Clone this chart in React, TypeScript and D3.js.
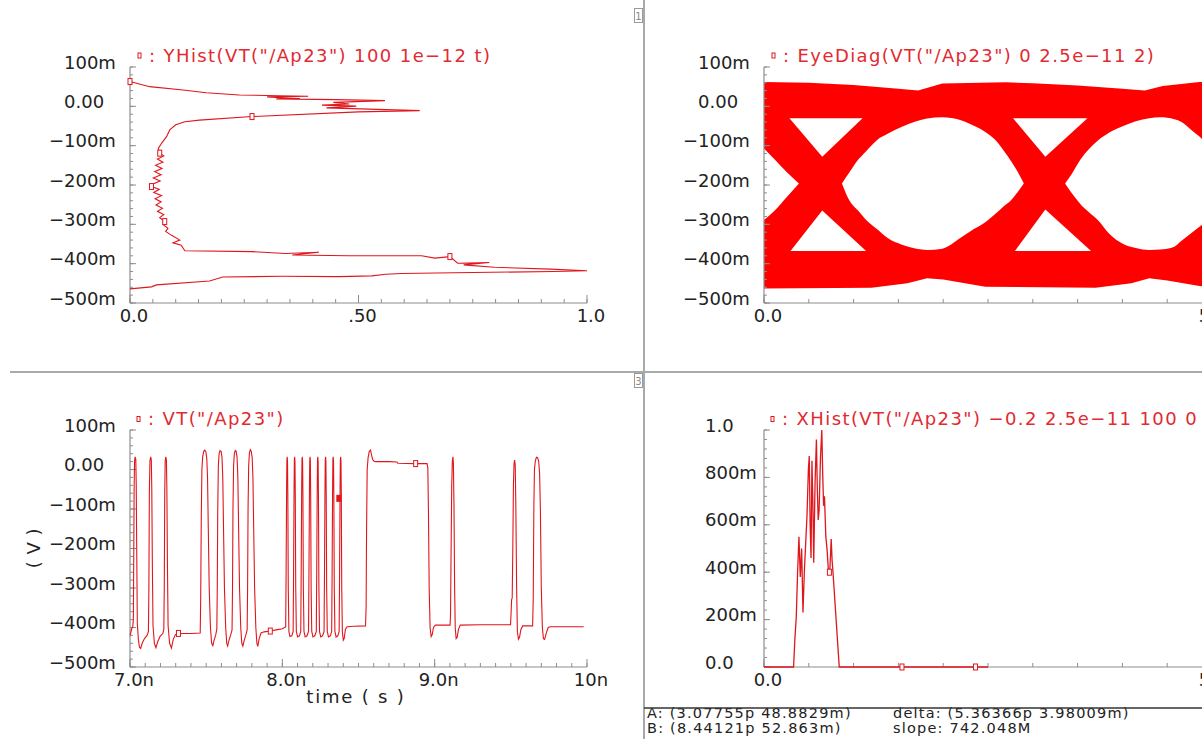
import React from "react";
import * as d3 from "d3";

// ---------------- DATA ----------------
// Top-left: YHist — normalized count vs. voltage (mV)
const yhistPoints: [number, number][] = [
  [0.0, 63], [0.043, 50], [0.116, 41.5], [0.167, 34.7], [0.239, 28.8], [0.326, 27], [0.39, 25.5],
  [0.3, 24], [0.33, 22], [0.372, 20], [0.32, 19], [0.45, 17], [0.558, 14.5], [0.445, 10], [0.48, 6],
  [0.42, 3], [0.495, 0.5], [0.43, -4], [0.634, -11], [0.5, -14], [0.267, -26], [0.152, -35],
  [0.12, -39], [0.1, -47], [0.087, -60], [0.08, -77], [0.069, -94], [0.062, -107], [0.065, -119],
  [0.074, -126], [0.06, -134], [0.072, -142], [0.056, -150], [0.07, -158], [0.054, -166],
  [0.068, -174], [0.051, -182], [0.066, -190], [0.049, -198], [0.047, -204], [0.064, -211],
  [0.052, -219], [0.069, -227], [0.055, -235], [0.068, -243], [0.057, -251], [0.071, -259],
  [0.06, -267], [0.074, -275], [0.065, -283], [0.076, -293], [0.072, -300], [0.083, -310],
  [0.078, -318], [0.091, -328], [0.109, -340], [0.094, -347], [0.112, -353],
  [0.12, -367], [0.268, -369.5], [0.34, -374], [0.413, -371], [0.355, -378], [0.478, -380],
  [0.638, -380], [0.667, -386], [0.7, -382], [0.717, -399], [0.786, -397], [0.73, -403],
  [0.797, -409], [0.92, -414], [1.0, -418], [0.927, -420], [0.71, -423], [0.594, -425],
  [0.56, -427], [0.529, -431], [0.457, -433], [0.333, -432], [0.203, -434], [0.174, -444],
  [0.058, -454], [0.047, -459], [0.0, -464],
];
const yhistMarkers: [number, number][] = [
  [0.0, 63], [0.267, -26], [0.065, -119], [0.047, -204], [0.076, -293], [0.7, -382],
];

// Top-right: eye diagram (ps, mV) — outer envelope and white openings
const eyeUpperEdge: [number, number][] = [
  [0, 62], [5, 60], [10, 54], [15, 45], [17.2, 40], [19.9, 58], [27, 61], [30, 59], [35, 53],
  [40, 45], [42.5, 40], [44.5, 52], [48.6, 62], [50, 62],
];
const eyeLowerEdge: [number, number][] = [
  [0, -463], [12, -461], [16, -450], [18.2, -437], [20, -440], [24.7, -459], [37, -461],
  [41, -450], [43, -437], [45, -443], [48.6, -457], [50, -460],
];
// eye openings: [time ps, upper boundary mV, lower boundary mV]
const eyeOpening0: [number, number, number][] = [
  [0, -107, -289], [1.2, -135, -265], [2.5, -166, -232], [3.9, -196, -196],
];
const eyeOpening1: [number, number, number][] = [
  [8.7, -196, -196], [9.5, -169, -238], [10.5, -136, -265], [11.4, -114, -289], [12.6, -86, -312],
  [13.8, -70, -335], [15.4, -52, -352], [17.0, -38, -362], [18.2, -31, -365], [19.9, -28, -362],
  [21.9, -35, -335], [23.0, -45, -318], [24.7, -65, -295], [25.8, -85, -274], [26.7, -111, -255],
  [27.6, -140, -238], [28.4, -170, -215], [29.0, -196, -196],
];
const eyeOpening2: [number, number, number][] = [
  [33.6, -196, -196], [34.4, -170, -222], [35.3, -136, -248], [36.3, -108, -270], [37.3, -86, -290],
  [38.5, -67, -323], [40.1, -50, -350], [41.5, -38, -360], [43.0, -30, -365], [44.2, -28, -364],
  [45.8, -33, -357], [46.6, -40, -342], [47.6, -58, -324], [48.6, -77, -306], [50, -107, -289],
];
const eyeTriangleUp1: [number, number][] = [[2.84, -30.5], [11.0, -30.5], [6.5, -128]];
const eyeTriangleDown1: [number, number][] = [[6.5, -265], [11.4, -368], [2.96, -368]];
const eyeTriangleUp2: [number, number][] = [[27.8, -30.5], [36.1, -30.5], [31.4, -128]];
const eyeTriangleDown2: [number, number][] = [[31.4, -262], [36.5, -368], [28.0, -368]];

// Bottom-left: transient VT("/Ap23") (ns, mV)
const vtPoints: [number, number][] = [
  [7.0, -420], [7.006, -412], [7.012, -402], [7.018, -398], [7.022, -380], [7.025, -200], [7.027, -50],
  [7.03, 22], [7.034, 32], [7.038, 26], [7.041, -40], [7.044, -200], [7.048, -390], [7.055, -430],
  [7.062, -450], [7.07, -453], [7.08, -440], [7.095, -428], [7.112, -420], [7.121, -410], [7.124, -300],
  [7.127, -60], [7.131, 22], [7.136, 32], [7.14, 24], [7.143, -50], [7.147, -250], [7.151, -395],
  [7.16, -440], [7.17, -451], [7.182, -436], [7.198, -422], [7.215, -416], [7.222, -405], [7.225, -300],
  [7.228, -60], [7.231, 22], [7.235, 32], [7.239, 24], [7.242, -50], [7.246, -250], [7.25, -395],
  [7.26, -440], [7.272, -452], [7.284, -430], [7.298, -418], [7.318, -415], [7.4, -415], [7.461, -414],
  [7.464, -330], [7.468, -120], [7.472, 0], [7.477, 32], [7.484, 46], [7.491, 49], [7.498, 45],
  [7.504, 28], [7.509, -20], [7.514, -150], [7.52, -300], [7.528, -400], [7.536, -440], [7.544, -446],
  [7.552, -432], [7.562, -420], [7.57, -405], [7.573, -300], [7.576, -100], [7.58, 10], [7.585, 40],
  [7.591, 48], [7.598, 46], [7.604, 30], [7.609, -20], [7.614, -150], [7.62, -300], [7.628, -400],
  [7.635, -440], [7.641, -447], [7.65, -432], [7.66, -420], [7.67, -406], [7.673, -300], [7.676, -100],
  [7.68, 10], [7.685, 40], [7.691, 48], [7.697, 46], [7.703, 30], [7.708, -20], [7.713, -150],
  [7.719, -300], [7.727, -400], [7.734, -440], [7.741, -447], [7.75, -432], [7.76, -420], [7.769, -406],
  [7.772, -300], [7.775, -100], [7.779, 10], [7.784, 42], [7.79, 50], [7.796, 46], [7.802, 30],
  [7.807, -20], [7.812, -150], [7.818, -300], [7.826, -400], [7.833, -440], [7.839, -448], [7.848, -428],
  [7.86, -414], [7.88, -411], [7.921, -409], [7.96, -406], [8.0, -403], [8.015, -400],
  [8.022, -398], [8.025, -250], [8.028, -50], [8.03, 25], [8.032, 32], [8.034, 20], [8.036, -60],
  [8.039, -300], [8.043, -410], [8.05, -423], [8.062, -421], [8.071, -410],
  [8.074, -250], [8.077, -50], [8.079, 25], [8.081, 32], [8.083, 20], [8.085, -60], [8.088, -300],
  [8.092, -410], [8.1, -424], [8.112, -421], [8.121, -410],
  [8.124, -250], [8.127, -50], [8.129, 25], [8.131, 32], [8.133, 20], [8.135, -60], [8.138, -300],
  [8.142, -410], [8.15, -424], [8.162, -421], [8.172, -410],
  [8.175, -250], [8.178, -50], [8.18, 25], [8.182, 32], [8.184, 20], [8.186, -60], [8.189, -300],
  [8.193, -410], [8.201, -424], [8.213, -421], [8.223, -410],
  [8.226, -250], [8.229, -50], [8.231, 25], [8.233, 32], [8.235, 20], [8.237, -60], [8.24, -300],
  [8.244, -410], [8.252, -424], [8.264, -421], [8.274, -410],
  [8.277, -250], [8.28, -50], [8.282, 25], [8.284, 32], [8.286, 20], [8.288, -60], [8.291, -300],
  [8.295, -410], [8.303, -424], [8.315, -421], [8.324, -410],
  [8.327, -250], [8.33, -50], [8.332, 25], [8.334, 32], [8.336, 20], [8.338, -60], [8.341, -300],
  [8.345, -410], [8.353, -424], [8.364, -421], [8.373, -410],
  [8.376, -250], [8.379, -50], [8.381, 25], [8.383, 32], [8.385, 20], [8.387, -60], [8.39, -300],
  [8.394, -410], [8.4, -432], [8.406, -428], [8.414, -405], [8.425, -398], [8.47, -397], [8.546, -396],
  [8.55, -350], [8.553, -150], [8.557, 0], [8.563, 30], [8.571, 46], [8.579, 49], [8.585, 38],
  [8.592, 26], [8.602, 21], [8.612, 20], [8.7, 20], [8.752, 19], [8.758, 16], [8.875, 15], [8.95, 15],
  [8.955, 5], [8.959, -100], [8.964, -300], [8.97, -400], [8.977, -423], [8.984, -418], [8.992, -400],
  [9.005, -394], [9.101, -394],
  [9.104, -370], [9.108, -200], [9.112, -40], [9.116, 20], [9.12, 32], [9.123, 15], [9.127, -100],
  [9.131, -300], [9.135, -400], [9.141, -428], [9.148, -425], [9.156, -405], [9.168, -394],
  [9.3, -393], [9.498, -393],
  [9.502, -360], [9.505, -330], [9.509, -325], [9.513, -200], [9.517, -40], [9.521, 15], [9.525, 24],
  [9.529, 10], [9.533, -100], [9.538, -300], [9.543, -410], [9.55, -430], [9.557, -425], [9.566, -405],
  [9.578, -396], [9.643, -396],
  [9.647, -330], [9.651, -100], [9.655, 0], [9.661, 22], [9.668, 31], [9.676, 30], [9.683, 20],
  [9.689, -10], [9.694, -100], [9.7, -300], [9.707, -400], [9.714, -428], [9.722, -430], [9.732, -415],
  [9.745, -400], [9.76, -398], [9.9, -398], [9.978, -398],
];
const vtMarkers: [number, number][] = [[7.318, -415], [7.921, -409], [8.875, 15]];
const vtFilledMarkers: [number, number][] = [[8.371, -73]];

// Bottom-right: XHist (ps, normalized count)
const xhistPoints: [number, number][] = [
  [0, 0], [3.3, 0], [3.45, 0.12], [3.6, 0.21], [3.75, 0.4], [3.9, 0.55], [4.05, 0.38], [4.2, 0.5],
  [4.35, 0.23], [4.5, 0.4], [4.65, 0.52], [4.8, 0.64], [4.95, 0.83], [5.05, 0.89], [5.15, 0.6],
  [5.25, 0.46], [5.35, 0.87], [5.45, 0.7], [5.55, 0.44], [5.7, 0.78], [5.85, 0.96], [5.95, 0.75],
  [6.05, 0.62], [6.15, 0.66], [6.3, 0.88], [6.45, 1.0], [6.55, 0.82], [6.65, 0.68], [6.75, 0.72],
  [6.9, 0.55], [7.05, 0.49], [7.2, 0.4], [7.35, 0.41], [7.5, 0.54], [7.6, 0.45], [7.7, 0.4],
  [8.4, 0], [25, 0],
];
const xhistMarkers: [number, number][] = [[7.3, 0.4], [15.4, 0], [23.6, 0]];

// Tick labels
const voltTicks = [100, 0, -100, -200, -300, -400, -500];
const voltTickLabels = ["100m", "0.00", "−100m", "−200m", "−300m", "−400m", "−500m"];
const countTicks = [0, 0.5, 1];
const countTickLabels = ["0.0", ".50", "1.0"];
const timeTicks = [7, 8, 9, 10];
const timeTickLabels = ["7.0n", "8.0n", "9.0n", "10n"];
const psTicks = [0, 50];
const psTickLabels = ["0.0", "50p"];
const fracTicks = [1, 0.8, 0.6, 0.4, 0.2, 0];
const fracTickLabels = ["1.0", "800m", "600m", "400m", "200m", "0.0"];

const titleTL = ': YHist(VT("/Ap23") 100 1e−12 t)';
const titleTR = ': EyeDiag(VT("/Ap23") 0 2.5e−11 2)';
const titleBL = ': VT("/Ap23")';
const titleBR = ': XHist(VT("/Ap23") −0.2 2.5e−11 100 0 2.5e−11)';
const statusLines = [
  "A: (3.07755p 48.8829m)",
  "B: (8.44121p 52.863m)",
  "delta: (5.36366p 3.98009m)",
  "slope: 742.048M",
];

// ---------------- STYLE ----------------
const W = 1202;
const H = 739;
const RED = "#e0161d";
const RED_TEXT = "#e22a31";
const RED_FILL = "#ff0000";
const AXIS = "#8d8d8d";
const LABEL = "#222222";
const FONT = "'DejaVu Sans', Verdana, sans-serif";
const MINUS_W = 15.1;

type Lin = d3.ScaleLinear<number, number>;

// scales
const xTL = d3.scaleLinear().domain([0, 1]).range([130, 587]);
const yTL = d3.scaleLinear().domain([-500, 100]).range([303, 67]);
const xTR = d3.scaleLinear().domain([0, 50]).range([764, 1212]);
const yTR = d3.scaleLinear().domain([-500, 100]).range([303, 67]);
const xBL = d3.scaleLinear().domain([7, 10]).range([130, 587]);
const yBL = d3.scaleLinear().domain([-500, 100]).range([667, 430]);
const xBR = d3.scaleLinear().domain([0, 50]).range([764, 1212]);
const yBR = d3.scaleLinear().domain([0, 1]).range([667, 430]);

function Axes(props: {
  x: Lin; y: Lin;
  xMajor: number[]; xLabels: string[]; xMinorStep: number;
  yMajor: number[]; yLabels: string[]; yMinorStep: number;
  labelLeft: number;
}) {
  const { x, y, xMajor, xLabels, xMinorStep, yMajor, yLabels, yMinorStep, labelLeft } = props;
  const [xa, xb] = x.range();
  const [yb, ya] = y.range();
  const xd = x.domain();
  const yd = y.domain();
  const xMinor = d3.range(xd[0], xd[1] + xMinorStep / 2, xMinorStep);
  const yMinor = d3.range(yd[0], yd[1] + yMinorStep / 2, yMinorStep);
  return (
    <g>
      {xMinor.map((v, i) => (
        <line key={"xm" + i} x1={x(v)} x2={x(v)} y1={yb} y2={yb - 4} stroke={AXIS} strokeWidth={1} />
      ))}
      {xMajor.map((v, i) => (
        <line key={"xM" + i} x1={x(v)} x2={x(v)} y1={yb} y2={yb - 8} stroke={AXIS} strokeWidth={1} />
      ))}
      {yMinor.map((v, i) => (
        <line key={"ym" + i} x1={xa} x2={xa + 3} y1={y(v)} y2={y(v)} stroke={AXIS} strokeWidth={1} />
      ))}
      {yMajor.map((v, i) => (
        <line key={"yM" + i} x1={xa} x2={xa + 6} y1={y(v)} y2={y(v)} stroke={AXIS} strokeWidth={1} />
      ))}
      <line x1={xa} x2={xb} y1={yb} y2={yb} stroke={AXIS} strokeWidth={1.2} />
      <line x1={xa} x2={xa} y1={yb} y2={ya} stroke={AXIS} strokeWidth={1.2} />
      {xMajor.map((v, i) => (
        <text key={"xl" + i} x={x(v) + 4} y={yb + 19} textAnchor="middle" fontSize={18}
          fontFamily={FONT} fill={LABEL}>{xLabels[i]}</text>
      ))}
      {yMajor.map((v, i) => {
        const lab = yLabels[i];
        const neg = lab.startsWith("−");
        return (
          <text key={"yl" + i} x={neg ? labelLeft - MINUS_W : labelLeft} y={y(v) + 1.5} fontSize={18}
            fontFamily={FONT} fill={LABEL}>{lab}</text>
        );
      })}
    </g>
  );
}

function Title({ x, y, text }: { x: number; y: number; text: string }) {
  return (
    <g>
      <rect x={x} y={y - 8.5} width={3} height={5} fill="none" stroke={RED} strokeWidth={1} />
      <text x={x + 11} y={y} fontSize={18} fontFamily={FONT} fill={RED_TEXT} letterSpacing={1.4}>{text}</text>
    </g>
  );
}

function Markers({ pts, x, y, filled }: { pts: [number, number][]; x: Lin; y: Lin; filled?: boolean }) {
  return (
    <g>
      {pts.map((p, i) => (
        <rect key={i} x={x(p[0]) - 2} y={y(p[1]) - 3} width={4} height={6}
          fill={filled ? RED : "white"} stroke={RED} strokeWidth={1} />
      ))}
    </g>
  );
}

function polyPath(pts: [number, number][], x: Lin, y: Lin) {
  return (d3.line<[number, number]>().x((d) => x(d[0])).y((d) => y(d[1]))(pts) || "") + "Z";
}

function openingPath(pts: [number, number, number][], x: Lin, y: Lin) {
  return d3.area<[number, number, number]>()
    .x((d) => x(d[0]))
    .y0((d) => y(d[1]))
    .y1((d) => y(d[2]))
    .curve(d3.curveMonotoneX)(pts) || "";
}

export default function App() {
  const lineTL = d3.line<[number, number]>().x((d) => xTL(d[0])).y((d) => yTL(d[1]))(yhistPoints) || "";
  const lineBL = d3.line<[number, number]>().x((d) => xBL(d[0])).y((d) => yBL(d[1]))(vtPoints) || "";
  const lineBR = d3.line<[number, number]>().x((d) => xBR(d[0])).y((d) => yBR(d[1]))(xhistPoints) || "";
  const envelope = d3.area<[number, number]>()
    .x((d) => xTR(d[0]))
    .y0(() => 0)
    .y1((d) => yTR(d[1]));
  const outer: [number, number][] = [...eyeUpperEdge, ...eyeLowerEdge.slice().reverse()];
  const outerPath = polyPath(outer, xTR, yTR);
  const openings = [eyeOpening0, eyeOpening1, eyeOpening2].map((o) => openingPath(o, xTR, yTR));
  const triangles = [eyeTriangleUp1, eyeTriangleDown1, eyeTriangleUp2, eyeTriangleDown2].map((t) => polyPath(t, xTR, yTR));
  void envelope;

  return (
    <svg width={W} height={H} viewBox={`0 0 ${W} ${H}`}
      style={{ position: "absolute", left: 0, top: 0, background: "white", display: "block" }}>
      <rect x={0} y={0} width={W} height={H} fill="white" />

      {/* dividers */}
      <line x1={644} x2={644} y1={0} y2={H} stroke="#a9a9a9" strokeWidth={2} />
      <line x1={10} x2={W} y1={372} y2={372} stroke="#a9a9a9" strokeWidth={2} />
      <rect x={634.5} y={8.5} width={8} height={14} fill="white" stroke="#9a9a9a" strokeWidth={1} />
      <text x={638.5} y={19.5} fontSize={10} textAnchor="middle" fontFamily={FONT} fill="#8a8a8a">1</text>
      <rect x={634.5} y={373.5} width={8} height={14} fill="white" stroke="#9a9a9a" strokeWidth={1} />
      <text x={638.5} y={384.5} fontSize={10} textAnchor="middle" fontFamily={FONT} fill="#8a8a8a">3</text>

      {/* Top-left: YHist */}
      <Axes x={xTL} y={yTL} xMajor={countTicks} xLabels={countTickLabels} xMinorStep={0.05}
        yMajor={voltTicks} yLabels={voltTickLabels} yMinorStep={20} labelLeft={64} />
      <path d={lineTL} fill="none" stroke={RED} strokeWidth={1.1} />
      <Markers pts={yhistMarkers} x={xTL} y={yTL} />
      <Title x={138} y={61.5} text={titleTL} />

      {/* Top-right: Eye diagram */}
      <path d={outerPath} fill={RED_FILL} stroke="none" />
      {openings.map((d, i) => (
        <path key={"op" + i} d={d} fill="white" stroke="none" />
      ))}
      {triangles.map((d, i) => (
        <path key={"tr" + i} d={d} fill="white" stroke="none" />
      ))}
      <Axes x={xTR} y={yTR} xMajor={psTicks} xLabels={psTickLabels} xMinorStep={5}
        yMajor={voltTicks} yLabels={voltTickLabels} yMinorStep={20} labelLeft={698} />
      <Title x={772} y={61.5} text={titleTR} />

      {/* Bottom-left: transient */}
      <Axes x={xBL} y={yBL} xMajor={timeTicks} xLabels={timeTickLabels} xMinorStep={0.1}
        yMajor={voltTicks} yLabels={voltTickLabels} yMinorStep={20} labelLeft={64} />
      <path d={lineBL} fill="none" stroke={RED} strokeWidth={1.1} />
      <Markers pts={vtMarkers} x={xBL} y={yBL} />
      <Markers pts={vtFilledMarkers} x={xBL} y={yBL} filled />
      <Title x={137} y={425} text={titleBL} />
      <text x={356} y={703} textAnchor="middle" fontSize={18} fontFamily={FONT} fill={LABEL}
        letterSpacing={1.8}>time ( s )</text>
      <text transform="translate(40,548) rotate(-90)" textAnchor="middle" fontSize={18} fontFamily={FONT}
        fill={LABEL} letterSpacing={0.5}>( V )</text>

      {/* Bottom-right: XHist */}
      <Axes x={xBR} y={yBR} xMajor={psTicks} xLabels={psTickLabels} xMinorStep={5}
        yMajor={fracTicks} yLabels={fracTickLabels} yMinorStep={0.04} labelLeft={705} />
      <path d={lineBR} fill="none" stroke={RED} strokeWidth={1.3} />
      <Markers pts={xhistMarkers} x={xBR} y={yBR} />
      <Title x={771} y={425} text={titleBR} />

      {/* status bar */}
      <text x={647} y={718} fontSize={14.5} fontFamily={FONT} fill={LABEL} letterSpacing={1.2}>{statusLines[0]}</text>
      <text x={647} y={733} fontSize={14.5} fontFamily={FONT} fill={LABEL} letterSpacing={1.2}>{statusLines[1]}</text>
      <text x={893} y={718} fontSize={14.5} fontFamily={FONT} fill={LABEL} letterSpacing={1.2}>{statusLines[2]}</text>
      <text x={893} y={733} fontSize={14.5} fontFamily={FONT} fill={LABEL} letterSpacing={1.2}>{statusLines[3]}</text>
      <line x1={644} x2={W} y1={708} y2={708} stroke="#333" strokeWidth={1.5} />
    </svg>
  );
}
